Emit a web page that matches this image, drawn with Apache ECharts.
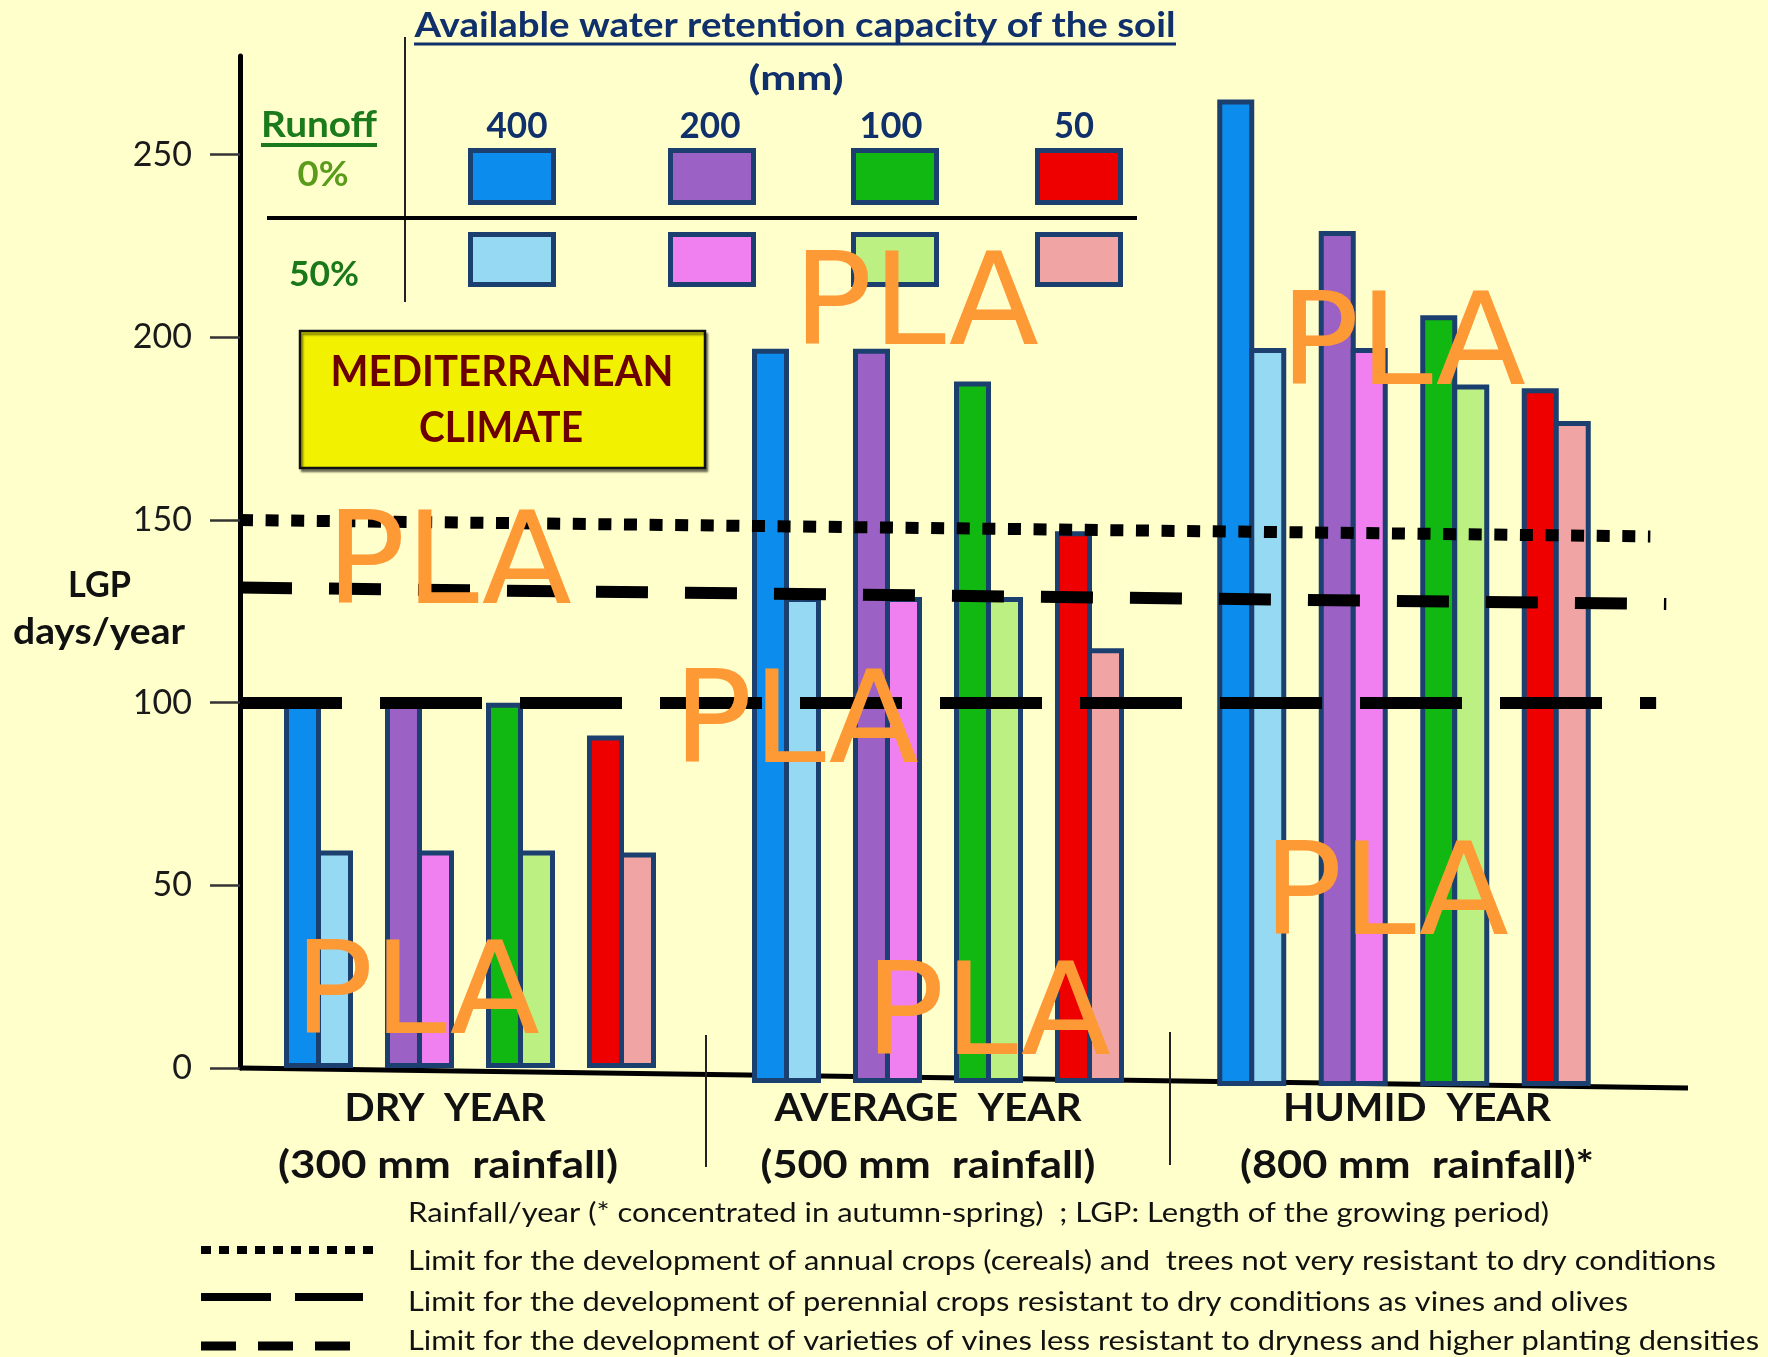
<!DOCTYPE html>
<html>
<head>
<meta charset="utf-8">
<title>Length of the growing period – Mediterranean climate</title>
<script src="https://cdn.jsdelivr.net/npm/echarts@6/dist/echarts.min.js"></script>
<style>
  html, body { margin: 0; padding: 0; background: #ffffcc; }
  #chart { width: 1768px; height: 1357px; }
</style>
</head>
<body>
<div id="chart"></div>
<script>
// ---- data -------------------------------------------------------------
// Available water retention capacity of the soil (mm), one bar pair each
const capacities = ['400', '200', '100', '50'];
const yearNames = ['DRY  YEAR', 'AVERAGE  YEAR', 'HUMID  YEAR'];
const rainfallNames = ['(300 mm  rainfall)', '(500 mm  rainfall)', '(800 mm  rainfall)*'];

// LGP (days/year), runoff 0 % and runoff 50 %, in capacity order
const dryRunoff0 = [100, 100, 100, 91];
const dryRunoff50 = [59.5, 59.5, 59.5, 59];
const averageRunoff0 = [201, 201, 192, 151];
const averageRunoff50 = [133, 133, 133, 119];
const humidRunoff0 = [270, 234, 211, 191];
const humidRunoff50 = [202, 202, 192, 182];

const yTicks = [0, 50, 100, 150, 200, 250];

// Limit lines (days/year) at their left and right ends
const limitStart = [150, 131.5, 100];
const limitEnd = [145.5, 127, 100];
const limitNames = [
  'Limit for the development of annual crops (cereals) and  trees not very resistant to dry conditions',
  'Limit for the development of perennial crops resistant to dry conditions as vines and olives',
  'Limit for the development of varieties of vines less resistant to dryness and higher planting densities'
];
const noteText = 'Rainfall/year (* concentrated in autumn-spring)  ; LGP: Length of the growing period)';

// ---- styling ----------------------------------------------------------
const colorsRunoff0 = ['#0c8cec', '#9b61c4', '#12b812', '#ee0000'];
const colorsRunoff50 = ['#96d9f3', '#f07fef', '#bdf082', '#f0a4a4'];
const barBorder = '#1b3f6e';
const navy = '#10306b';
const Y_MAX = 277;

const chart = echarts.init(document.getElementById('chart'), null, { renderer: 'canvas' });

// text helper: squeezes/stretches a label horizontally to a given width
const measureCtx = document.createElement('canvas').getContext('2d');
function label(text, x, y, size, weight, color, width, align, family) {
  family = family || 'Lato';
  align = align || 'center';
  measureCtx.font = weight + ' ' + size + 'px ' + family;
  const w = measureCtx.measureText(text).width;
  return {
    type: 'text', x: x, y: y, scaleX: width / w, z: 30, silent: true,
    style: {
      text: text, fontSize: size, fontWeight: weight, fontFamily: family,
      fill: color, align: align, verticalAlign: 'middle'
    }
  };
}
function line(x1, y1, x2, y2, color, width, dash, z) {
  return {
    type: 'line', z: z || 5, silent: true,
    shape: { x1: x1, y1: y1, x2: x2, y2: y2 },
    style: { stroke: color, lineWidth: width, lineDash: dash || null, lineCap: 'butt' }
  };
}
function swatch(x, y, w, h, fill) {
  return {
    type: 'rect', z: 10, silent: true,
    shape: { x: x + 2.5, y: y + 2.5, width: w - 5, height: h - 5 },
    style: { fill: fill, stroke: barBorder, lineWidth: 5 }
  };
}

// ---- grids: 0 = frame with the y axis and limit lines, 1..3 = year groups
const grids = [
  { left: 240, top: 56, width: 1448, height: 1012 },
  { left: 268, top: 56, width: 404, height: 1012 },
  { left: 736, top: 71, width: 404, height: 1012 },
  { left: 1201, top: 74, width: 406, height: 1012 }
];

const xAxes = [{ type: 'value', gridIndex: 0, min: 0, max: 1, show: false }];
const yAxes = [{
  type: 'value', gridIndex: 0, min: 0, max: Y_MAX,
  axisLine: { show: true, lineStyle: { color: '#000', width: 5 } },
  axisTick: { show: true, length: 30, customValues: yTicks, lineStyle: { color: '#333', width: 2.5 } },
  axisLabel: { customValues: yTicks, margin: 48, fontSize: 34, fontFamily: 'Lato', color: '#1a1a1a' },
  splitLine: { show: false }
}];

const groupData = [
  [dryRunoff0, dryRunoff50],
  [averageRunoff0, averageRunoff50],
  [humidRunoff0, humidRunoff50]
];

const series = [];
groupData.forEach(function (pair, i) {
  const gi = i + 1;
  xAxes.push({ type: 'category', gridIndex: gi, data: capacities, show: false });
  yAxes.push({ type: 'value', gridIndex: gi, min: 0, max: Y_MAX, show: false });
  [0, 1].forEach(function (k) {
    const palette = k === 0 ? colorsRunoff0 : colorsRunoff50;
    series.push({
      type: 'bar', name: k === 0 ? 'Runoff 0%' : 'Runoff 50%',
      xAxisIndex: gi, yAxisIndex: gi, data: pair[k],
      barWidth: 37, barGap: '-13.5%', z: 3, silent: true,
      itemStyle: {
        color: function (p) { return palette[p.dataIndex]; },
        borderColor: barBorder, borderWidth: 5
      }
    });
  });
});

// limit lines drawn over the bars
const limitStyles = [
  { type: [13, 12.6], width: 12 },
  { type: [52, 37], width: 12 },
  { type: [102, 38], width: 12 }
];
const limitRightEnd = [0.974, 0.985, 0.978];
series.push({
  type: 'line', xAxisIndex: 0, yAxisIndex: 0, data: [], z: 6, silent: true, clip: false,
  markLine: {
    silent: true, symbol: ['none', 'none'], label: { show: false }, animation: false,
    data: limitStart.map(function (v, i) {
      return [
        { coord: [0, v], lineStyle: { color: '#000', width: limitStyles[i].width, type: limitStyles[i].type, cap: 'butt' } },
        { coord: [limitRightEnd[i], limitEnd[i]] }
      ];
    })
  }
});

// ---- decorations, header table and footnotes --------------------------
const graphics = [];
// sloping base line of the bar groups
graphics.push(line(240, 1068, 1688, 1088, '#000', 5, null, 1));
// separators between year groups
graphics.push(line(706, 1035, 706, 1167, '#222', 2));
graphics.push(line(1170, 1032, 1170, 1165, '#222', 2));

// header table
graphics.push(label('Available water retention capacity of the soil', 795, 26, 34, 'bold', navy, 761));
graphics.push(line(414, 44, 1176, 44, navy, 3));
graphics.push(label('(mm)', 796, 79, 34, 'bold', navy, 95));
graphics.push(label('Runoff', 319, 125, 37, 'bold', '#1b7a1b', 116));
graphics.push(line(261, 145, 377, 145, '#1b7a1b', 4));
graphics.push(label('0%', 323, 175, 35, 'bold', '#5a9b1c', 51));
graphics.push(label('50%', 324, 275, 35, 'bold', '#1a781a', 70));
graphics.push(line(405, 37, 405, 302, '#222', 2));
graphics.push(line(267, 218, 1137, 218, '#000', 4));
const swatchX = [468, 668, 851, 1035];
const capCenters = [517, 710, 891, 1074];
const capWidths = [61, 61, 63, 40];
capacities.forEach(function (c, i) {
  graphics.push(label(c, capCenters[i], 126, 36, 'bold', navy, capWidths[i]));
  graphics.push(swatch(swatchX[i], 148, 88, 57, colorsRunoff0[i]));
  graphics.push(swatch(swatchX[i], 232, 88, 55, colorsRunoff50[i]));
});

// climate box
graphics.push({
  type: 'rect', z: 10, silent: true,
  shape: { x: 300, y: 331, width: 405, height: 137 },
  style: { fill: '#f2f200', stroke: '#111', lineWidth: 2.5, shadowColor: 'rgba(0,0,0,0.45)', shadowOffsetX: 2, shadowOffsetY: 3, shadowBlur: 2 }
});
graphics.push(label('MEDITERRANEAN', 502, 372, 42, 'bold', '#6b0000', 343));
graphics.push(label('CLIMATE', 501, 428, 42, 'bold', '#6b0000', 164));

// y axis name
graphics.push(label('LGP', 99.5, 585, 37, 'bold', '#111', 63));
graphics.push(label('days/year', 99, 632, 37, 'bold', '#111', 172));

// year group names
const groupCenters = [445, 928, 1417];
const yearWidths = [201, 307, 268];
const rainWidths = [340, 335, 354];
yearNames.forEach(function (n, i) {
  graphics.push(label(n, groupCenters[i], 1109, 38, 'bold', '#111', yearWidths[i]));
  graphics.push(label(rainfallNames[i], groupCenters[i] + (i === 0 ? 3 : 0), 1166, 38, 'bold', '#111', rainWidths[i]));
});

// footnotes with line keys
graphics.push(label(noteText, 408, 1214, 26, 'normal', '#111', 1141, 'left'));
const noteY = [1262, 1303, 1342];
const noteW = [1308, 1220, 1351];
limitNames.forEach(function (t, i) {
  graphics.push(label(t, 408, noteY[i], 26, 'normal', '#111', noteW[i], 'left'));
});
graphics.push(line(201, 1250, 381, 1250, '#000', 8, [10, 8]));
graphics.push(line(201, 1297, 363, 1297, '#000', 8, [70, 24]));
graphics.push(line(201, 1346, 356, 1346, '#000', 9, [35, 22]));

// overlaid PLA marks
const plaSpots = [[793, 311], [1280, 351], [326, 570], [673, 729], [1263, 901], [294, 1000], [865, 1021]];
plaSpots.forEach(function (p) {
  const t = label('PLA', p[0], p[1], 128, 'normal', '#fd9a36', 246, 'left', 'DejaVu Sans');
  t.z = 40;
  graphics.push(t);
});

chart.setOption({
  animation: false,
  backgroundColor: '#ffffcc',
  grid: grids,
  xAxis: xAxes,
  yAxis: yAxes,
  series: series,
  graphic: { elements: graphics }
});
</script>
</body>
</html>
